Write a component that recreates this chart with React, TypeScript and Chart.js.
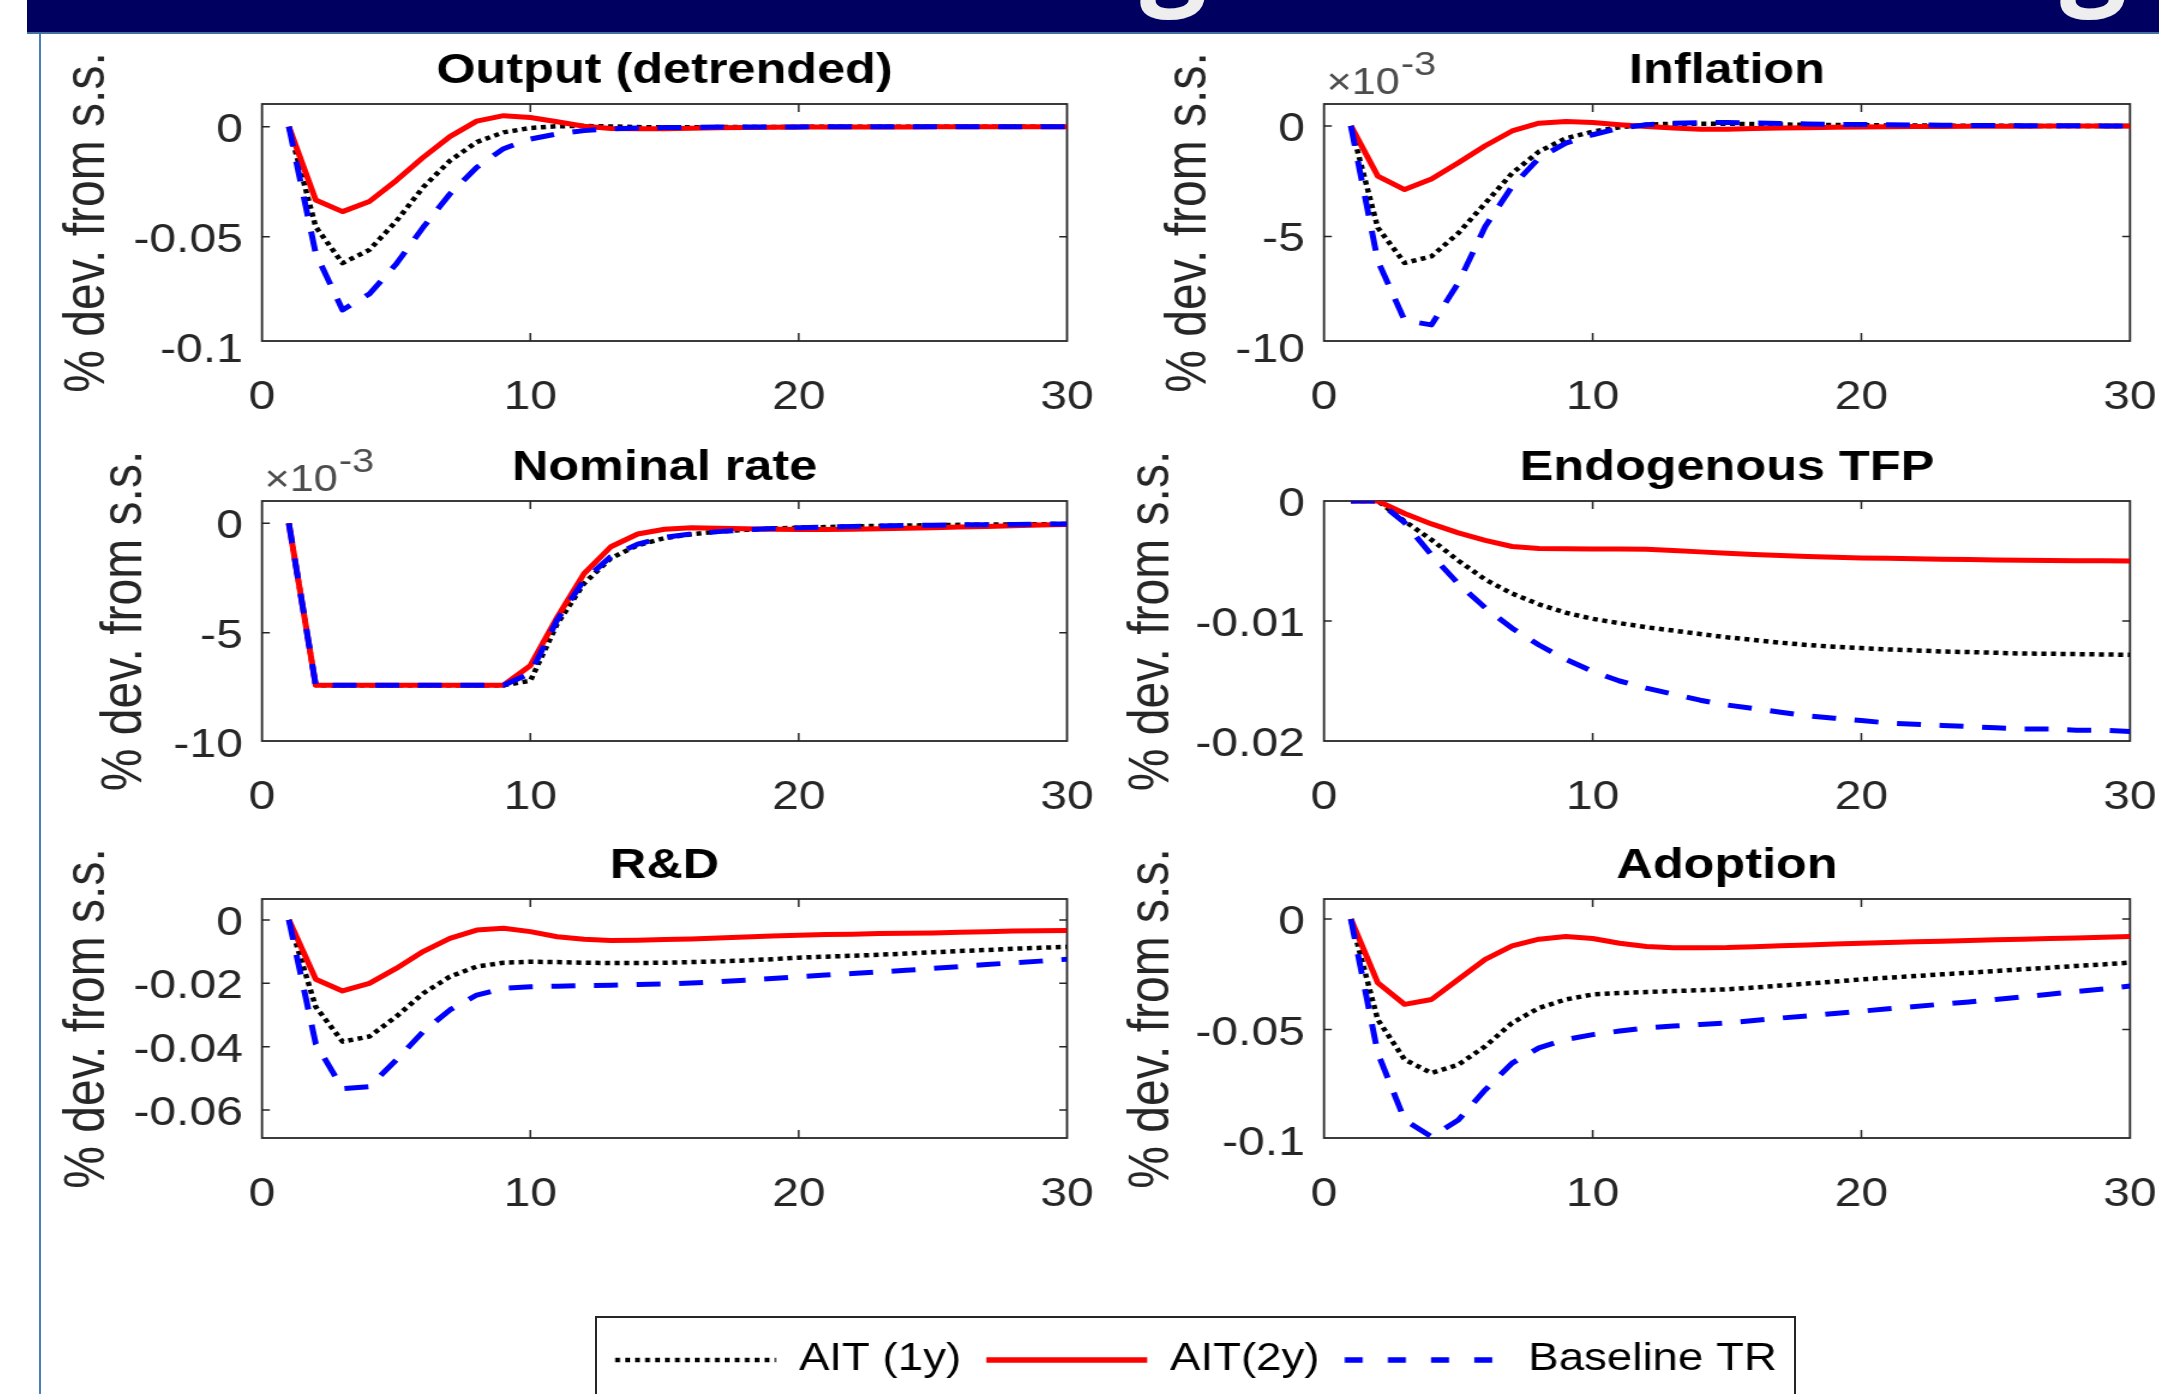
import React, { useEffect, useRef } from 'react';
import { Chart, registerables } from 'chart.js';

Chart.register(...registerables);

// ---------------- data ----------------
const periods = [1, 2, 3, 4, 5, 6, 7, 8, 9, 10, 11, 12, 13, 14, 15, 16, 17, 18, 19, 20, 21, 22, 23, 24, 25, 26, 27, 28, 29, 30];
const seriesLabels = ['AIT (1y)', 'AIT(2y)', 'Baseline TR'];
const xTickValues = [0, 10, 20, 30];

// Output (detrended)
const outputAIT1y = [0, -0.0455, -0.062, -0.056, -0.043, -0.0276, -0.0155, -0.007, -0.0026, -0.0006, 0.0002, 0.0003, 0.0001, -0.0002, -0.0003, -0.0003, -0.0002, -0.0002, -0.0001, -0.0001, 0, 0, 0, 0, 0, 0, 0, 0, 0, 0];
const outputAIT2y = [0, -0.0333, -0.0386, -0.034, -0.0245, -0.014, -0.0045, 0.0025, 0.005, 0.0042, 0.0022, 0.0002, -0.0008, -0.001, -0.0009, -0.0007, -0.0005, -0.0004, -0.0003, -0.0002, -0.0002, -0.0001, -0.0001, -0.0001, 0, 0, 0, 0, 0, 0];
const outputBaseline = [0, -0.0576, -0.0833, -0.076, -0.0624, -0.0458, -0.0306, -0.0185, -0.01, -0.0056, -0.0033, -0.0018, -0.001, -0.0006, -0.0004, -0.0003, -0.0002, -0.0002, -0.0001, -0.0001, 0, 0, 0, 0, 0, 0, 0, 0, 0, 0];

// Inflation (units of 1e-3)
const inflationAIT1y = [0, -4.6, -6.2, -5.9, -4.85, -3.5, -2.14, -1.16, -0.56, -0.26, -0.06, 0.05, 0.1, 0.1, 0.1, 0.08, 0.06, 0.05, 0.04, 0.03, 0.02, 0.02, 0.01, 0.01, 0.01, 0, 0, 0, 0, 0];
const inflationAIT2y = [0, -2.27, -2.88, -2.4, -1.67, -0.9, -0.23, 0.12, 0.2, 0.15, 0.05, -0.03, -0.1, -0.15, -0.15, -0.12, -0.1, -0.08, -0.06, -0.05, -0.04, -0.03, -0.03, -0.02, -0.02, -0.02, -0.01, -0.01, -0.01, -0.01];
const inflationBaseline = [0, -6.1, -8.8, -9.0, -7.1, -4.55, -2.74, -1.46, -0.78, -0.4, -0.1, 0.05, 0.12, 0.15, 0.15, 0.13, 0.11, 0.09, 0.07, 0.06, 0.05, 0.04, 0.03, 0.02, 0.02, 0.01, 0.01, 0.01, 0, 0];

// Nominal rate (units of 1e-3)
const nominalAIT1y = [0, -7.4, -7.4, -7.4, -7.4, -7.4, -7.4, -7.4, -7.4, -7.2, -4.6, -2.75, -1.6, -1.0, -0.68, -0.5, -0.38, -0.3, -0.24, -0.2, -0.17, -0.14, -0.12, -0.1, -0.09, -0.07, -0.06, -0.05, -0.04, -0.03];
const nominalAIT2y = [0, -7.4, -7.4, -7.4, -7.4, -7.4, -7.4, -7.4, -7.4, -6.5, -4.3, -2.3, -1.07, -0.49, -0.27, -0.2, -0.22, -0.25, -0.27, -0.28, -0.28, -0.27, -0.25, -0.23, -0.2, -0.17, -0.14, -0.11, -0.08, -0.05];
const nominalBaseline = [0, -7.4, -7.4, -7.4, -7.4, -7.4, -7.4, -7.4, -7.4, -6.86, -4.42, -2.6, -1.52, -0.95, -0.64, -0.49, -0.38, -0.3, -0.24, -0.2, -0.17, -0.14, -0.12, -0.1, -0.09, -0.07, -0.06, -0.05, -0.04, -0.03];

// Endogenous TFP
const tfpAIT1y = [0, 0, -0.00168, -0.00323, -0.00497, -0.00654, -0.00771, -0.00861, -0.00931, -0.00982, -0.01018, -0.01052, -0.0108, -0.01108, -0.01136, -0.01158, -0.01181, -0.012, -0.01215, -0.01226, -0.01237, -0.01245, -0.01254, -0.01259, -0.01265, -0.01271, -0.01273, -0.01276, -0.01279, -0.01282];
const tfpAIT2y = [0, 0, -0.00104, -0.00191, -0.00266, -0.00328, -0.00379, -0.00396, -0.00398, -0.004, -0.004, -0.00402, -0.00412, -0.00424, -0.00435, -0.00446, -0.00454, -0.00463, -0.00468, -0.00474, -0.00478, -0.00482, -0.00485, -0.00488, -0.00491, -0.00494, -0.00495, -0.00497, -0.00498, -0.005];
const tfpBaseline = [0, 0, -0.0018, -0.0045, -0.0069, -0.0089, -0.0106, -0.012, -0.0132, -0.0142, -0.015, -0.0156, -0.0161, -0.0166, -0.017, -0.0173, -0.0176, -0.0179, -0.0181, -0.0183, -0.0185, -0.0186, -0.0187, -0.0188, -0.0189, -0.019, -0.019, -0.0191, -0.0191, -0.0192];

// R&D
const rdAIT1y = [0, -0.0274, -0.0384, -0.0368, -0.0305, -0.0232, -0.0179, -0.0147, -0.0135, -0.0132, -0.0133, -0.0135, -0.0136, -0.0136, -0.0135, -0.0133, -0.0131, -0.0128, -0.0124, -0.0119, -0.0116, -0.0113, -0.011, -0.0106, -0.0102, -0.0098, -0.0095, -0.0091, -0.0088, -0.0085];
const rdAIT2y = [0, -0.0187, -0.0224, -0.02, -0.0153, -0.01, -0.0058, -0.0032, -0.0026, -0.0037, -0.0053, -0.0061, -0.0065, -0.0064, -0.0062, -0.006, -0.0057, -0.0054, -0.0051, -0.0048, -0.0046, -0.0045, -0.0043, -0.0042, -0.0041, -0.0039, -0.0037, -0.0035, -0.0034, -0.0033];
const rdBaseline = [0, -0.039, -0.0532, -0.0526, -0.0442, -0.0353, -0.0284, -0.0237, -0.0216, -0.0211, -0.0209, -0.0207, -0.0206, -0.0204, -0.0202, -0.0199, -0.0195, -0.019, -0.0185, -0.0179, -0.0174, -0.0169, -0.0164, -0.0159, -0.0153, -0.0147, -0.0141, -0.0135, -0.013, -0.0124];

// Adoption
const adoptionAIT1y = [0, -0.0455, -0.0636, -0.0697, -0.0659, -0.0576, -0.047, -0.0402, -0.0364, -0.0341, -0.0335, -0.033, -0.0326, -0.0322, -0.0318, -0.031, -0.0301, -0.0292, -0.0283, -0.0273, -0.0265, -0.0258, -0.025, -0.0243, -0.0235, -0.0227, -0.022, -0.0212, -0.0205, -0.0197];
const adoptionAIT2y = [0, -0.0288, -0.0386, -0.0364, -0.0273, -0.0182, -0.0121, -0.0091, -0.0079, -0.0088, -0.0109, -0.0124, -0.013, -0.013, -0.0129, -0.0125, -0.0121, -0.0117, -0.0113, -0.0109, -0.0106, -0.0103, -0.01, -0.0097, -0.0094, -0.0091, -0.0088, -0.0085, -0.0082, -0.0079];
const adoptionBaseline = [0, -0.0606, -0.0909, -0.0985, -0.0909, -0.0773, -0.0652, -0.0583, -0.0545, -0.0523, -0.0507, -0.0492, -0.0484, -0.0477, -0.047, -0.0459, -0.0448, -0.0438, -0.0427, -0.0417, -0.0406, -0.0396, -0.0385, -0.0375, -0.0364, -0.0352, -0.034, -0.0328, -0.0316, -0.0303];

// y tick values / labels
const ticksOutput = [-0.1, -0.05, 0];
const tickLabelsOutput = ['-0.1', '-0.05', '0'];
const ticksThousandths = [-10, -5, 0];
const tickLabelsThousandths = ['-10', '-5', '0'];
const ticksTfp = [-0.02, -0.01, 0];
const tickLabelsTfp = ['-0.02', '-0.01', '0'];
const ticksRd = [-0.06, -0.04, -0.02, 0];
const tickLabelsRd = ['-0.06', '-0.04', '-0.02', '0'];
const ticksAdoption = [-0.1, -0.05, 0];
const tickLabelsAdoption = ['-0.1', '-0.05', '0'];

// ---------------- style / layout ----------------
const S = 1.2; // horizontal stretch of the pasted figure
const FONT = "'Liberation Sans', Arial, Helvetica, sans-serif";
const AXIS = '#262626';
const YLABEL_SIZE = 48;
const COLS = [{ left: 262, right: 1067 }, { left: 1324, right: 2130 }];
const ROWS = [{ top: 104, bottom: 341 }, { top: 501, bottom: 741 }, { top: 899, bottom: 1138 }];
const MARGIN_L = 230;
const CANVAS_W_PAGE = 1176;
const MARGIN_T = 80;
const MARGIN_B = 80;

Chart.defaults.font.family = FONT;

const panels = [
  { title: 'Output (detrended)', black: outputAIT1y, red: outputAIT2y, blue: outputBaseline, yMin: -0.0974, yMax: 0.0103, yTicks: ticksOutput, yTickLabels: tickLabelsOutput, exponent: false, col: 0, row: 0, ylabelBaseline: 108 },
  { title: 'Inflation', black: inflationAIT1y, red: inflationAIT2y, blue: inflationBaseline, yMin: -9.73, yMax: 0.99, yTicks: ticksThousandths, yTickLabels: tickLabelsThousandths, exponent: true, col: 1, row: 0, ylabelBaseline: 1210 },
  { title: 'Nominal rate', black: nominalAIT1y, red: nominalAIT2y, blue: nominalBaseline, yMin: -9.95, yMax: 1.02, yTicks: ticksThousandths, yTickLabels: tickLabelsThousandths, exponent: true, col: 0, row: 1, ylabelBaseline: 145 },
  { title: 'Endogenous TFP', black: tfpAIT1y, red: tfpAIT2y, blue: tfpBaseline, yMin: -0.02, yMax: 0, yTicks: ticksTfp, yTickLabels: tickLabelsTfp, exponent: false, col: 1, row: 1, ylabelBaseline: 1173 },
  { title: 'R&D', black: rdAIT1y, red: rdAIT2y, blue: rdBaseline, yMin: -0.0688, yMax: 0.0066, yTicks: ticksRd, yTickLabels: tickLabelsRd, exponent: false, col: 0, row: 2, ylabelBaseline: 108 },
  { title: 'Adoption', black: adoptionAIT1y, red: adoptionAIT2y, blue: adoptionBaseline, yMin: -0.0991, yMax: 0.0091, yTicks: ticksAdoption, yTickLabels: tickLabelsAdoption, exponent: false, col: 1, row: 2, ylabelBaseline: 1173 },
];

const matlabAxes = {
  id: 'matlabAxes',
  beforeDatasetsDraw(chart: any, _args: any, opts: any) {
    const { ctx, chartArea: a, scales } = chart;
    ctx.save();
    ctx.strokeStyle = AXIS;
    ctx.lineWidth = 1.8;
    ctx.setLineDash([]);
    ctx.strokeRect(a.left, a.top, a.right - a.left, a.bottom - a.top);
    ctx.lineWidth = 1.5;
    ctx.beginPath();
    for (const v of opts.xTicks || []) {
      const px = scales.x.getPixelForValue(v);
      if (px <= a.left + 1 || px >= a.right - 1) continue;
      ctx.moveTo(px, a.bottom); ctx.lineTo(px, a.bottom - 8);
      ctx.moveTo(px, a.top); ctx.lineTo(px, a.top + 8);
    }
    for (const v of opts.yTicks || []) {
      const py = scales.y.getPixelForValue(v);
      if (py < a.top + 1 || py > a.bottom - 1) continue;
      ctx.moveTo(a.left, py); ctx.lineTo(a.left + 6.5, py);
      ctx.moveTo(a.right, py); ctx.lineTo(a.right - 6.5, py);
    }
    ctx.stroke();
    if (opts.exponent) {
      ctx.fillStyle = '#4d4d4d';
      ctx.textAlign = 'left';
      ctx.textBaseline = 'alphabetic';
      ctx.font = `36px ${FONT}`;
      const x0 = a.left + 2;
      ctx.fillText('\u00d710', x0, a.top - 10);
      const w = ctx.measureText('\u00d710').width;
      ctx.font = `33px ${FONT}`;
      ctx.fillText('-3', x0 + w + 1, a.top - 29);
    }
    ctx.restore();
  },
};

function toPoints(values: number[]) {
  return values.map((y, i) => ({ x: periods[i], y }));
}

function Panel({ cfg }: { cfg: any }) {
  const ref = useRef<HTMLCanvasElement>(null);
  const col = COLS[cfg.col];
  const row = ROWS[cfg.row];
  const pageLeft = col.left - MARGIN_L;
  const pageTop = row.top - MARGIN_T;
  const heightPx = row.bottom - row.top + MARGIN_T + MARGIN_B;
  const cw = CANVAS_W_PAGE / S;

  useEffect(() => {
    const yAxisW = MARGIN_L / S;
    const rightPad = cw - (col.right - pageLeft) / S;
    const titleCenter = (cfg.ylabelBaseline - 0.3465 * YLABEL_SIZE * S - pageLeft) / S;
    const tickFont = { size: 40, family: FONT, lineHeight: 1 };
    const chart = new Chart(ref.current as HTMLCanvasElement, {
      type: 'line',
      data: {
        datasets: [
          { label: seriesLabels[0], data: toPoints(cfg.black), borderColor: '#000000', backgroundColor: '#000000', borderWidth: 4.5, borderDash: [4.2, 3.8], pointRadius: 0, order: 3, borderCapStyle: 'butt', borderJoinStyle: 'round' },
          { label: seriesLabels[1], data: toPoints(cfg.red), borderColor: '#ff0000', backgroundColor: '#ff0000', borderWidth: 5, pointRadius: 0, order: 2, borderCapStyle: 'butt', borderJoinStyle: 'round' },
          { label: seriesLabels[2], data: toPoints(cfg.blue), borderColor: '#0000ff', backgroundColor: '#0000ff', borderWidth: 5, borderDash: [20, 15.5], pointRadius: 0, order: 1, borderCapStyle: 'butt', borderJoinStyle: 'round' },
        ],
      },
      options: {
        responsive: false,
        animation: false,
        devicePixelRatio: 1,
        events: [],
        layout: { padding: { left: 0, right: rightPad, top: 0, bottom: 0 }, autoPadding: false },
        scales: {
          x: {
            type: 'linear', min: 0, max: 30,
            grid: { display: false, drawTicks: false }, border: { display: false },
            afterBuildTicks: (s: any) => { s.ticks = xTickValues.map((v) => ({ value: v })); },
            afterFit: (s: any) => { s.height = MARGIN_B; },
            ticks: { autoSkip: false, maxRotation: 0, padding: 37, color: AXIS, font: tickFont, callback: (v: any) => String(v) },
          },
          y: {
            type: 'linear', min: cfg.yMin, max: cfg.yMax,
            grid: { display: false, drawTicks: false }, border: { display: false },
            afterBuildTicks: (s: any) => { s.ticks = cfg.yTicks.map((v: number) => ({ value: v })); },
            afterFit: (s: any) => { s.width = yAxisW; },
            ticks: {
              autoSkip: false, padding: 16, labelOffset: 4, color: AXIS, font: tickFont,
              callback: (v: any) => { const k = cfg.yTicks.indexOf(Number(v)); return k >= 0 ? cfg.yTickLabels[k] : ''; },
            },
            title: {
              display: true, text: '% dev. from s.s.', color: AXIS,
              font: { size: YLABEL_SIZE, family: FONT, lineHeight: 1 },
              padding: { top: titleCenter - YLABEL_SIZE / 2, bottom: 0 },
            },
          },
        },
        plugins: {
          legend: { display: false },
          tooltip: { enabled: false },
          title: {
            display: true, text: cfg.title, fullSize: false, color: '#000000',
            font: { size: 42, weight: 'bold', family: FONT, lineHeight: 1 },
            padding: { top: 26, bottom: 12 },
          },
          matlabAxes: { xTicks: xTickValues, yTicks: cfg.yTicks, exponent: cfg.exponent },
        },
      } as any,
      plugins: [matlabAxes as any],
    });
    return () => chart.destroy();
  }, []);

  return (
    <canvas
      ref={ref}
      width={cw}
      height={heightPx}
      style={{ position: 'absolute', left: pageLeft, top: pageTop, width: CANVAS_W_PAGE, height: heightPx }}
    />
  );
}

function LegendChart() {
  const ref = useRef<HTMLCanvasElement>(null);
  const pageLeft = 546;
  const pageW = 1300;
  const pageTop = 1317;
  const h = 200;
  const cw = pageW / S;
  useEffect(() => {
    const chart = new Chart(ref.current as HTMLCanvasElement, {
      type: 'line',
      data: {
        datasets: [
          { label: seriesLabels[0], data: [], borderColor: '#000000', borderWidth: 4.5, borderDash: [4, 4.3] },
          { label: seriesLabels[1], data: [], borderColor: '#ff0000', borderWidth: 5.5, borderDash: [] },
          { label: seriesLabels[2], data: [], borderColor: '#0000ff', borderWidth: 5.5, borderDash: [15, 21] },
        ],
      },
      options: {
        responsive: false,
        animation: false,
        devicePixelRatio: 1,
        events: [],
        layout: { padding: { top: 3, left: 0, right: 0, bottom: 0 }, autoPadding: false },
        scales: { x: { display: false }, y: { display: false } },
        plugins: {
          tooltip: { enabled: false },
          title: { display: false },
          legend: {
            display: true, position: 'top', align: 'center', maxHeight: 150,
            labels: {
              usePointStyle: true, pointStyle: 'line', pointStyleWidth: 134, padding: 21,
              color: '#000000', font: { size: 38, family: FONT, lineHeight: 1 },
              generateLabels: (c: any) => c.data.datasets.map((ds: any, i: number) => ({
                text: ds.label, fillStyle: 'rgba(0,0,0,0)', strokeStyle: ds.borderColor,
                lineWidth: ds.borderWidth, lineDash: ds.borderDash || [], lineCap: 'butt',
                pointStyle: 'line', hidden: false, datasetIndex: i, fontColor: '#000000',
              })),
            },
          },
        },
      } as any,
    });
    return () => chart.destroy();
  }, []);
  return (
    <canvas
      ref={ref}
      width={cw}
      height={h}
      style={{ position: 'absolute', left: pageLeft, top: pageTop, width: pageW, height: h }}
    />
  );
}

function Header() {
  const ref = useRef<HTMLCanvasElement>(null);
  useEffect(() => {
    const c = ref.current as HTMLCanvasElement;
    const ctx = c.getContext('2d') as CanvasRenderingContext2D;
    ctx.clearRect(0, 0, c.width, c.height);
    ctx.fillStyle = '#000060';
    ctx.fillRect(27, 0, 2132, 32);
    ctx.fillStyle = '#41719c';
    ctx.fillRect(27, 32, 2132, 2);
    ctx.save();
    ctx.beginPath();
    ctx.rect(27, 0, 2132, 32);
    ctx.clip();
    ctx.fillStyle = '#eeeeee';
    ctx.font = "bold 118px 'Open Sans', 'DejaVu Sans', sans-serif";
    ctx.textBaseline = 'alphabetic';
    const m = ctx.measureText('g');
    const baseline = 20 - m.actualBoundingBoxDescent;
    ctx.fillText('g', 1140 + m.actualBoundingBoxLeft, baseline);
    ctx.fillText('g', 2060 + m.actualBoundingBoxLeft, baseline);
    ctx.restore();
  }, []);
  return <canvas ref={ref} width={2159} height={40} style={{ position: 'absolute', left: 0, top: 0, width: 2159, height: 40 }} />;
}

export default function App() {
  return (
    <div style={{ position: 'fixed', left: 0, top: 0, width: 2159, height: 1394, overflow: 'hidden', background: '#ffffff' }}>
      <Header />
      <div style={{ position: 'absolute', left: 39, top: 34, width: 2, height: 1360, background: '#4a7ebb' }} />
      {panels.map((p, i) => (
        <Panel key={i} cfg={p} />
      ))}
      <div style={{ position: 'absolute', left: 595, top: 1316, width: 1197, height: 200, border: '2px solid #262626' }} />
      <LegendChart />
    </div>
  );
}
